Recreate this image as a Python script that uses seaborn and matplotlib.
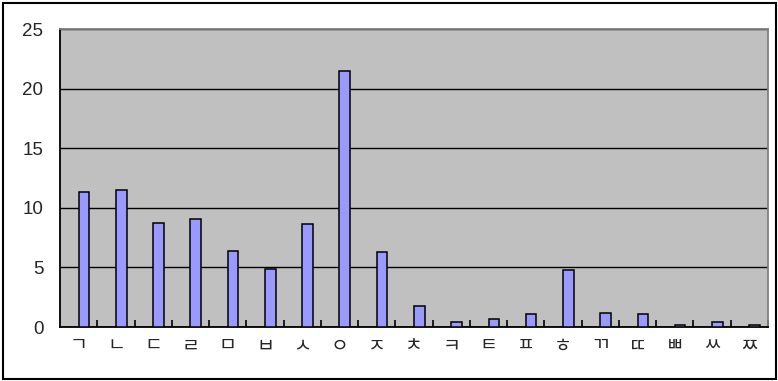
import matplotlib
matplotlib.use("Agg")
import matplotlib.pyplot as plt
from matplotlib.patches import Rectangle
from matplotlib.ticker import FixedLocator
import seaborn as sns
import pandas as pd

# Frequency (%) of each initial consonant
consonants = ["ㄱ", "ㄴ", "ㄷ", "ㄹ", "ㅁ", "ㅂ", "ㅅ", "ㅇ", "ㅈ", "ㅊ",
              "ㅋ", "ㅌ", "ㅍ", "ㅎ", "ㄲ", "ㄸ", "ㅃ", "ㅆ", "ㅉ"]
values = [11.3, 11.5, 8.7, 9.1, 6.4, 4.9, 8.6, 21.5, 6.3, 1.8,
          0.4, 0.7, 1.1, 4.8, 1.2, 1.1, 0.2, 0.4, 0.2]
y_ticks = [0, 5, 10, 15, 20, 25]

sns.set_style("white")
plt.rcParams["font.family"] = ["Noto Sans CJK KR", "DejaVu Sans"]

df = pd.DataFrame({"consonant": consonants, "value": values})

fig = plt.figure(figsize=(7.78, 3.81), dpi=100)
ax = fig.add_axes([60 / 778, 1 - 327 / 381, 708 / 778, 298 / 381])
ax.set_facecolor("#C0C0C0")

bar_w = 0.286
sns.barplot(data=df, x="consonant", y="value", color="#9999FF",
            edgecolor="black", linewidth=1.1, width=bar_w,
            saturation=1, ax=ax, zorder=3)
# place each bar in the right half of its category slot
for p in ax.patches:
    p.set_x(p.get_x() + bar_w / 2)

ax.set_xlim(-0.5, len(consonants) - 0.5)
ax.set_ylim(0, 25)
ax.set_yticks(y_ticks)
ax.set_xlabel("")
ax.set_ylabel("")

ax.yaxis.grid(True, color="black", linewidth=1.0, zorder=1)
ax.xaxis.grid(False)
ax.set_axisbelow(True)

for side in ("left", "bottom"):
    ax.spines[side].set_color("black")
    ax.spines[side].set_linewidth(1.3)
for side in ("top", "right"):
    ax.spines[side].set_visible(True)
    ax.spines[side].set_color("#808080")
    ax.spines[side].set_linewidth(1.3)

ax.tick_params(axis="y", which="major", direction="out", length=4,
               width=1, color="black", pad=8, labelsize=13.5)
ax.tick_params(axis="x", which="major", length=0, pad=6, labelsize=14)
ax.xaxis.set_minor_locator(FixedLocator([i + 0.5 for i in range(len(consonants))]))
ax.tick_params(axis="x", which="minor", direction="in", length=5,
               width=1.2, color="black", bottom=True)

for lbl in ax.get_yticklabels():
    lbl.set_fontfamily("Liberation Sans")

# outer chart border
fig.patches.append(Rectangle((2.5 / 778, 2.5 / 381), 773 / 778, 376 / 381,
                             transform=fig.transFigure, fill=False,
                             edgecolor="black", linewidth=1.5))

fig.savefig("out.png", dpi=100)
